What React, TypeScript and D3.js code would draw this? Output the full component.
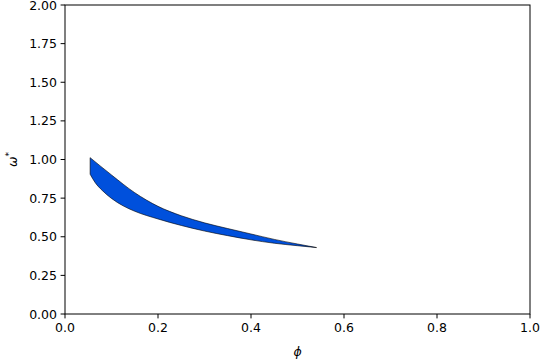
import React from "react";
import * as d3 from "d3";

const upperPhi = [0.054, 0.1, 0.15, 0.2, 0.25, 0.3, 0.35, 0.4, 0.45, 0.5, 0.541];
const upperOmega = [1.012, 0.9, 0.785, 0.697, 0.636, 0.59, 0.553, 0.518, 0.483, 0.453, 0.43];
const lowerPhi = [0.054, 0.065, 0.08, 0.1, 0.125, 0.15, 0.2, 0.25, 0.3, 0.35, 0.4, 0.45, 0.5, 0.541];
const lowerOmega = [0.905, 0.85, 0.8, 0.748, 0.7, 0.665, 0.615, 0.573, 0.537, 0.507, 0.48, 0.458, 0.442, 0.43];
const xTicks = [0, 0.2, 0.4, 0.6, 0.8, 1.0];
const yTicks = [0, 0.25, 0.5, 0.75, 1.0, 1.25, 1.5, 1.75, 2.0];

const W = 540, H = 360;
const L = 65, R = 530, T = 5, B = 314;

export default function App() {
  const x = d3.scaleLinear().domain([0, 1]).range([L, R]);
  const y = d3.scaleLinear().domain([0, 2]).range([B, T]);
  const up = upperPhi.map((p, i) => [p, upperOmega[i]] as [number, number]);
  const lo = lowerPhi.map((p, i) => [p, lowerOmega[i]] as [number, number]);
  const mk = d3.line<[number, number]>().x(d => x(d[0])).y(d => y(d[1])).curve(d3.curveMonotoneX);
  const upPath = mk(up)!;
  const loPath = mk([...lo].reverse())!;
  const area = upPath + "L" + loPath.slice(1) + "Z";
  const font = "DejaVu Sans, sans-serif";
  return (
    <svg width={W} height={H} style={{ position: "absolute", left: 0, top: 0, background: "#fff" }}>
      <path d={area} fill="#0050dc" stroke="#000" strokeWidth={0.6} />
      <rect x={L} y={T} width={R - L} height={B - T} fill="none" stroke="#000" strokeWidth={1} />
      {xTicks.map(t => (
        <g key={"x" + t}>
          <line x1={x(t)} x2={x(t)} y1={B} y2={B + 4.4} stroke="#000" strokeWidth={1} />
          <text x={x(t)} y={B + 18} textAnchor="middle" fontFamily={font} fontSize={12.5}>{t.toFixed(1)}</text>
        </g>
      ))}
      {yTicks.map(t => (
        <g key={"y" + t}>
          <line x1={L - 4.4} x2={L} y1={y(t)} y2={y(t)} stroke="#000" strokeWidth={1} />
          <text x={L - 8} y={y(t) + 4.5} textAnchor="end" fontFamily={font} fontSize={12.5}>{t.toFixed(2)}</text>
        </g>
      ))}
      <text x={(L + R) / 2} y={356} textAnchor="middle" fontFamily={font} fontSize={12.5} fontStyle="italic">ϕ</text>
      <text transform={`translate(17, ${(T + B) / 2}) rotate(-90)`} textAnchor="middle" fontFamily={font} fontSize={12.5} fontStyle="italic">
        ω<tspan dy={-5} fontSize={9} fontStyle="normal">*</tspan>
      </text>
    </svg>
  );
}
